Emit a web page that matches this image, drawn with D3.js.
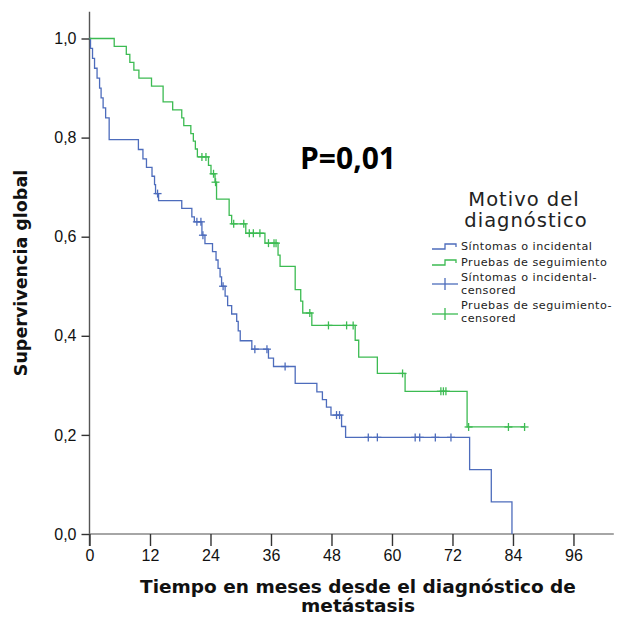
<!DOCTYPE html>
<html>
<head>
<meta charset="utf-8">
<script src="https://cdn.jsdelivr.net/npm/d3@7"></script>
<style>
  html, body { margin: 0; padding: 0; background: #fff; }
  svg { display: block; }
</style>
</head>
<body>
<svg id="chart" width="632" height="619"></svg>
<script>
// Kaplan–Meier steps: time of each drop (months) and survival after it
const sintomasTimes = [0, 0.2, 0.6, 1.0, 1.5, 2.0, 2.3, 2.7, 3.2, 3.9, 9.7, 10.6, 11.3, 12.4, 12.9, 13.1, 13.7,
  18.3, 20.3, 20.8, 22.3, 22.9, 24.4, 25.1, 25.5, 25.9, 26.2, 26.9, 27.4, 28.2, 29.2, 29.5, 29.9,
  32.2, 35.5, 36.5, 40.8, 45.1, 46.2, 47.0, 47.9, 50.0, 50.8, 75.4, 79.7, 83.8];
const sintomasSurv = [1.0, 0.98, 0.96, 0.94, 0.92, 0.90, 0.88, 0.86, 0.84, 0.796, 0.776, 0.757, 0.740, 0.722, 0.705, 0.687, 0.673,
  0.657, 0.640, 0.630, 0.603, 0.586, 0.570, 0.553, 0.536, 0.519, 0.500, 0.480, 0.461, 0.444, 0.429, 0.410, 0.390,
  0.373, 0.355, 0.338, 0.304, 0.287, 0.271, 0.256, 0.240, 0.217, 0.195, 0.130, 0.065, 0.0];
const sintomasCensored = [13.5, 21.3, 22.1, 22.5, 26.5, 32.8, 35.2, 38.8, 49.0, 49.6, 55.3, 57.1, 64.6, 65.5, 68.6, 71.7];

const pruebasTimes = [0, 4.9, 7.3, 8.0, 8.8, 9.8, 12.3, 14.6, 16.5, 18.3, 18.7, 20.1, 20.6, 21.0, 21.4,
  23.6, 24.1, 24.9, 25.2, 27.7, 28.2, 31.0, 34.8, 37.4, 37.8, 40.8, 41.9, 42.3, 44.1,
  52.7, 53.4, 57.1, 62.6, 74.9];
const pruebasSurv = [1.0, 0.984, 0.968, 0.952, 0.936, 0.920, 0.904, 0.872, 0.856, 0.840, 0.824, 0.808, 0.793, 0.777, 0.761,
  0.744, 0.727, 0.710, 0.676, 0.643, 0.626, 0.607, 0.587, 0.563, 0.540, 0.493, 0.470, 0.446, 0.421,
  0.391, 0.357, 0.324, 0.288, 0.216];
const pruebasCensored = [22.3, 23.1, 24.6, 25.0, 28.6, 30.6, 31.7, 32.5, 33.8, 35.5, 36.6, 37.0, 43.7,
  47.4, 51.0, 52.3, 62.1, 69.7, 70.2, 70.7, 75.2, 83.1, 86.3];

const xTicks = [0, 12, 24, 36, 48, 60, 72, 84, 96];
const yTicks = [0, 0.2, 0.4, 0.6, 0.8, 1.0];

const groupNames = ["Síntomas o incidental", "Pruebas de seguimiento"];
const colors = ["#4d6cbc", "#3cbb52"];

const svg = d3.select("#chart");
const x = d3.scaleLinear().domain([0, 104]).range([89.5, 613.8]);
const y = d3.scaleLinear().domain([0, 1]).range([534, 38.5]);

const axisColor = "#555";
const tickFont = "'Liberation Sans', Arial, sans-serif";

// axis lines
svg.append("line").attr("x1", x(0)).attr("x2", x(0)).attr("y1", y(1.054)).attr("y2", y(0) + 12)
  .attr("stroke", axisColor).attr("stroke-width", 1.4);
svg.append("line").attr("x1", x(0)).attr("x2", x(104)).attr("y1", y(0)).attr("y2", y(0))
  .attr("stroke", "#888").attr("stroke-width", 1.4);

const yAxis = svg.append("g").attr("transform", `translate(${x(0)},0)`)
  .call(d3.axisLeft(y).tickValues(yTicks).tickSize(8).tickPadding(5)
    .tickFormat(d => d.toFixed(1).replace(".", ",")));
yAxis.select(".domain").remove();
yAxis.selectAll("line").attr("stroke", "#333").attr("stroke-width", 1.4);
yAxis.selectAll("text").attr("font-family", tickFont).attr("font-size", 16).attr("fill", "#111");

const xAxis = svg.append("g").attr("transform", `translate(0,${y(0)})`)
  .call(d3.axisBottom(x).tickValues(xTicks).tickSize(12).tickPadding(4).tickFormat(d3.format("d")));
xAxis.select(".domain").remove();
xAxis.selectAll("line").attr("stroke", "#333").attr("stroke-width", 1.4);
xAxis.selectAll("text").attr("font-family", tickFont).attr("font-size", 16).attr("fill", "#111");

// step curves
function stepAt(times, surv, t) {
  let v = surv[0];
  for (let i = 0; i < times.length; i++) if (times[i] <= t) v = surv[i];
  return v;
}
const stepLine = d3.line().x(d => x(d[0])).y(d => y(d[1])).curve(d3.curveStepAfter);

const groups = [
  { times: sintomasTimes, surv: sintomasSurv, cens: sintomasCensored },
  { times: pruebasTimes, surv: pruebasSurv, cens: pruebasCensored }
];

groups.forEach((g, gi) => {
  const pts = g.times.map((t, i) => [t, g.surv[i]]);
  const lastT = Math.max(g.times[g.times.length - 1], d3.max(g.cens));
  pts.push([lastT, g.surv[g.surv.length - 1]]);
  svg.append("path").datum(pts).attr("d", stepLine)
    .attr("fill", "none").attr("stroke", colors[gi]).attr("stroke-width", 1.3);
  const cg = svg.append("g").attr("stroke", colors[gi]).attr("stroke-width", 1.3);
  g.cens.forEach(t => {
    const cx = x(t), cy = y(stepAt(g.times, g.surv, t));
    cg.append("line").attr("x1", cx - 4).attr("x2", cx + 4).attr("y1", cy).attr("y2", cy);
    cg.append("line").attr("x1", cx).attr("x2", cx).attr("y1", cy - 4).attr("y2", cy + 4);
  });
});

// axis titles
const titleFont = "'DejaVu Sans', Verdana, sans-serif";
svg.append("text").attr("transform", "translate(27,273) rotate(-90)")
  .attr("text-anchor", "middle").attr("font-family", titleFont).attr("font-weight", "bold")
  .attr("font-size", 17.5).attr("fill", "#111").text("Supervivencia global");
svg.append("text").attr("x", 358).attr("y", 593).attr("text-anchor", "middle")
  .attr("font-family", titleFont).attr("font-weight", "bold").attr("font-size", 18.5).attr("fill", "#111")
  .text("Tiempo en meses desde el diagnóstico de");
svg.append("text").attr("x", 358).attr("y", 612).attr("text-anchor", "middle")
  .attr("font-family", titleFont).attr("font-weight", "bold").attr("font-size", 18.5).attr("fill", "#111")
  .text("metástasis");

// p-value annotation
svg.append("text").attr("x", 300).attr("y", 169)
  .attr("font-family", "'Open Sans', sans-serif").attr("font-weight", "bold").attr("font-size", 30)
  .attr("fill", "#000").text("P=0,01");

// legend
const lg = svg.append("g");
lg.append("text").attr("x", 524).attr("y", 205.5).attr("text-anchor", "middle")
  .attr("font-family", titleFont).attr("font-size", 19.5).attr("letter-spacing", 1)
  .attr("fill", "#222").text("Motivo del");
lg.append("text").attr("x", 526).attr("y", 227).attr("text-anchor", "middle")
  .attr("font-family", titleFont).attr("font-size", 19.5).attr("letter-spacing", 1)
  .attr("fill", "#222").text("diagnóstico");

const legFont = "'DejaVu Sans', Verdana, sans-serif";
const itemFs = 11.2;
// line items
[[0, 249], [1, 265]].forEach(([gi, yy]) => {
  lg.append("path").attr("d", `M432,${yy} H445 V${yy - 5} H456 V${yy - 2}`)
    .attr("fill", "none").attr("stroke", colors[gi]).attr("stroke-width", 1.3);
  lg.append("text").attr("x", 461).attr("y", yy + 1).attr("font-family", legFont)
    .attr("font-size", itemFs).attr("letter-spacing", 0.5).attr("fill", "#222").text(groupNames[gi]);
});
// censor items
[[0, 284, 281, 294], [1, 314, 309, 322]].forEach(([gi, cy, t1, t2]) => {
  lg.append("line").attr("x1", 432).attr("x2", 458).attr("y1", cy).attr("y2", cy)
    .attr("stroke", colors[gi]).attr("stroke-width", 1.3);
  lg.append("line").attr("x1", 445).attr("x2", 445).attr("y1", cy - 6).attr("y2", cy + 6)
    .attr("stroke", colors[gi]).attr("stroke-width", 1.3);
  lg.append("text").attr("x", 461).attr("y", t1).attr("font-family", legFont)
    .attr("font-size", itemFs).attr("letter-spacing", 0.5).attr("fill", "#222").text(groupNames[gi] + "-");
  lg.append("text").attr("x", 461).attr("y", t2).attr("font-family", legFont)
    .attr("font-size", itemFs).attr("letter-spacing", 0.5).attr("fill", "#222").text("censored");
});
</script>
</body>
</html>
